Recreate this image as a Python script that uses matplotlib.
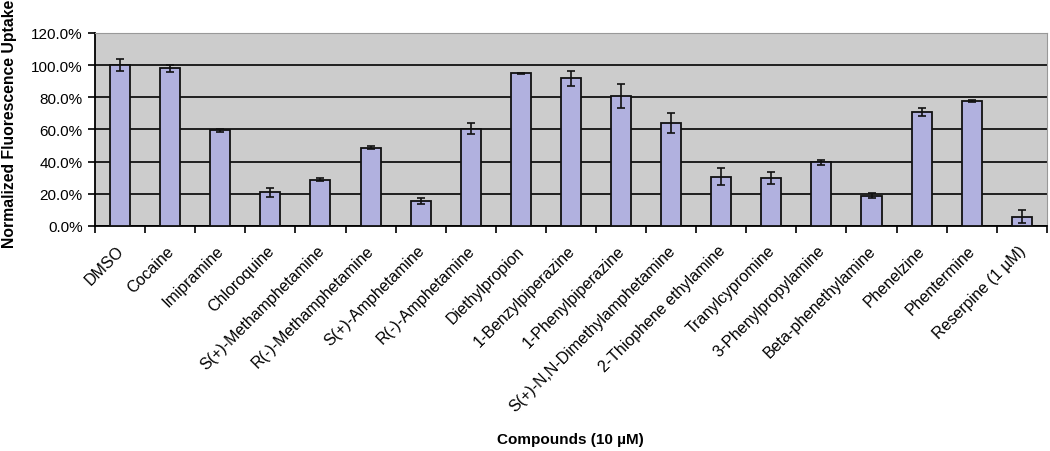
import matplotlib.pyplot as plt
import matplotlib.transforms as mtransforms
import numpy as np

plt.rcParams["font.family"] = ["Liberation Sans", "DejaVu Sans"]

compounds = [
    "DMSO", "Cocaine", "Imipramine", "Chloroquine", "S(+)-Methamphetamine",
    "R(-)-Methamphetamine", "S(+)-Amphetamine", "R(-)-Amphetamine",
    "Diethylpropion", "1-Benzylpiperazine", "1-Phenylpiperazine",
    "S(+)-N,N-Dimethylamphetamine", "2-Thiophene ethylamine",
    "Tranylcypromine", "3-Phenylpropylamine", "Beta-phenethylamine",
    "Phenelzine", "Phentermine", "Reserpine (1 µM)",
]
uptake = [100.0, 97.9, 59.4, 20.9, 28.8, 48.6, 15.6, 60.4, 94.8, 91.7,
          80.8, 64.2, 30.6, 29.8, 39.6, 18.8, 70.8, 77.5, 5.8]
errors = [3.5, 2.3, 1.0, 2.7, 0.8, 1.0, 1.7, 3.4, 0.4, 4.5,
          7.3, 6.3, 5.2, 4.0, 1.6, 1.5, 2.2, 0.6, 4.0]

fig = plt.figure(figsize=(10.5, 4.52), dpi=100)
ax = fig.add_axes([0.0905, 0.498, 0.9065, 0.427])
ax.set_facecolor("#cccccc")

x = np.arange(len(compounds))
ax.bar(x, uptake, width=0.4, color="#b1b1df", edgecolor="#111111",
       linewidth=1.3, zorder=3)
ax.errorbar(x, uptake, yerr=errors, fmt="none", ecolor="#111111",
            elinewidth=1.2, capsize=3, capthick=1.2, zorder=4)

ax.set_ylim(0, 120)
ax.set_xlim(-0.5, len(compounds) - 0.5)
ax.set_yticks(np.arange(0, 121, 20))
ax.set_yticklabels([f"{v:.1f}%" for v in np.arange(0, 121, 20)], fontsize=11)
ax.yaxis.grid(True, color="#111111", linewidth=1.3, zorder=1)
ax.set_axisbelow(True)

ax.set_xticks(x)
ax.set_xticklabels(compounds, rotation=45, ha="right", rotation_mode="anchor",
                   fontsize=11.5)
ax.tick_params(axis="x", length=0, pad=12)
shift = mtransforms.ScaledTranslation(-4 / 100, 0, fig.dpi_scale_trans)
for lbl in ax.get_xticklabels():
    lbl.set_transform(lbl.get_transform() + shift)
ax.set_xticks(np.arange(-0.5, len(compounds), 1), minor=True)
ax.tick_params(axis="x", which="minor", length=5, width=1.2, direction="out")
ax.tick_params(axis="y", length=5, width=1.2, direction="out", pad=4)

for side in ["top", "right"]:
    ax.spines[side].set_color("#999999")
for side in ["left", "bottom"]:
    ax.spines[side].set_linewidth(1.3)

fig.text(0.0095, 0.725, "Normalized Fluorescence Uptake", fontsize=11.3,
         fontweight="bold", rotation=90, ha="center", va="center")
fig.text(0.543, 0.027, "Compounds (10 µM)", fontsize=11, fontweight="bold",
         ha="center", va="center")

fig.savefig("out.png", dpi=100)
